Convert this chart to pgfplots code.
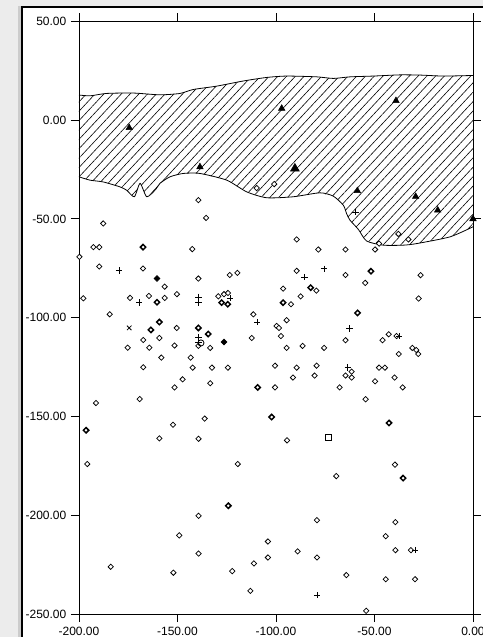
\documentclass[border=0pt]{standalone}
\usepackage{fontspec}
\setmainfont{Liberation Sans}
\usepackage{pgfplots}
\pgfplotsset{compat=1.18}
\usetikzlibrary{patterns.meta}

% square-ish diamonds, open and filled
\pgfdeclareplotmark{odia}{%
  \pgfpathmoveto{\pgfqpoint{0pt}{\pgfplotmarksize}}%
  \pgfpathlineto{\pgfqpoint{\pgfplotmarksize}{0pt}}%
  \pgfpathlineto{\pgfqpoint{0pt}{-\pgfplotmarksize}}%
  \pgfpathlineto{\pgfqpoint{-\pgfplotmarksize}{0pt}}%
  \pgfpathclose
  \pgfusepathqfillstroke}

\begin{document}
\begin{tikzpicture}
\path[use as bounding box, clip] (-59.25pt,-17.25pt) rectangle (303pt,460.5pt);
\fill[gray!15] (-59.25pt,-17.25pt) rectangle (303pt,460.5pt);
\fill[gray!40] (-45.5pt,-17.25pt) rectangle (-43.2pt,456pt);
\draw[line width=1.5pt, fill=white] (-42.4pt,-40pt) rectangle (340pt,455pt);

\begin{axis}[
    scale only axis,
    width=295.5pt, height=444.5pt,
    xmin=-200, xmax=0, ymin=-250, ymax=50,
    xtick={-200,-150,...,0},
    ytick={-250,-200,...,50},
    tick align=outside,
    major tick length=6pt,
    axis line style={line width=0.6pt},
    tick style={line width=0.6pt, black},
    tick label style={font=\fontsize{9}{10}\selectfont},
    /pgf/number format/.cd, fixed, fixed zerofill, precision=2, assume math mode=true,
]

% hatched zone
\addplot[draw=none, pattern={Lines[angle=47, distance=4.8pt, line width=0.45pt]}] coordinates {
    (-200,12.7) (-194.4,12.3) (-186,13.5) (-172.4,13.7) (-158.9,12.8) (-148.7,13.5)
    (-142,15.5) (-130.1,17.2) (-116.6,19.8) (-104.7,21.6) (-94.6,22.3) (-79.3,21.9)
    (-70.9,21.1) (-62.4,21.9) (-50.6,22.3) (-37.1,22.9) (-26.9,22.8) (-15,22.3) (0,22.6)
    (0,-54) (-11.7,-59.1) (-28.6,-62.5) (-35.4,-63.3) (-45.5,-63.3) (-54,-61.2)
    (-58.2,-55.3) (-62.4,-50.7) (-64.1,-47.5) (-65.8,-43.1) (-70.9,-38.5) (-77.7,-36.8)
    (-91.2,-38.8) (-104.7,-39.3) (-114.9,-36.3) (-125,-30.4) (-138.6,-27) (-147.1,-27)
    (-153.8,-28.7) (-158.9,-32) (-161,-35) (-165.6,-38.8) (-169,-32) (-171.9,-38.8)
    (-175.8,-35.5) (-179.2,-33.8) (-187.7,-31.3) (-194.4,-30.4) (-200,-28.7)
} -- cycle;

% upper and lower boundaries
\addplot[black, line width=0.6pt, smooth, tension=0.4] coordinates {
    (-200,12.7) (-194.4,12.3) (-186,13.5) (-172.4,13.7) (-158.9,12.8) (-148.7,13.5)
    (-142,15.5) (-130.1,17.2) (-116.6,19.8) (-104.7,21.6) (-94.6,22.3) (-79.3,21.9)
    (-70.9,21.1) (-62.4,21.9) (-50.6,22.3) (-37.1,22.9) (-26.9,22.8) (-15,22.3) (0,22.6)
};
\addplot[black, line width=0.6pt, smooth, tension=0.4] coordinates {
    (-200,-28.7) (-194.4,-30.4) (-187.7,-31.3) (-179.2,-33.8) (-175.8,-35.5) (-171.9,-38.8)
    (-169,-32) (-165.6,-38.8) (-161,-35) (-158.9,-32) (-153.8,-28.7)
    (-147.1,-27) (-138.6,-27) (-125,-30.4) (-114.9,-36.3) (-104.7,-39.3) (-91.2,-38.8)
    (-77.7,-36.8) (-70.9,-38.5) (-65.8,-43.1) (-64.1,-47.5) (-62.4,-50.7) (-58.2,-55.3)
    (-54,-61.2) (-45.5,-63.3) (-35.4,-63.3) (-28.6,-62.5) (-11.7,-59.1) (0,-54)
};

% filled triangles
\addplot[only marks, mark=triangle*, mark size=2.8pt, black] coordinates {
    (-174.5,-3.9) (-97.1,5.9) (-39.1,9.8) (-138.6,-23.7) (-58.7,-35.8)
    (-29.1,-38.7) (-17.9,-45.6) (0,-50)
};
\addplot[only marks, mark=triangle*, mark size=3.8pt, black] coordinates {(-90.4,-24.5)};

% open diamonds
\addplot[only marks, mark=odia, mark size=2pt, mark options={line width=0.55pt, fill=white, draw=black}] coordinates {
    (-109.8,-34.4) (-100.9,-32.4) (-37.9,-57.6) (-32.8,-60.4) (-47.7,-62.5)
    (-139.4,-40.5) (-135.5,-49.5) (-187.7,-52.3) (-192.7,-64.3) (-189.7,-64.3)
    (-199.8,-69.2) (-142.5,-65.3) (-189.7,-74.1) (-167.5,-75.1) (-139.4,-80.2)
    (-123.5,-78.4) (-119.6,-77.3) (-156.5,-84.3) (-197.8,-90.2) (-174.1,-90.0)
    (-164.5,-89.0) (-156.5,-90.0) (-150.3,-88.1) (-129.3,-89.2) (-126.4,-88.1)
    (-124.4,-87.5) (-96.4,-85.3) (-92.4,-93.2) (-89.5,-60.4) (-89.5,-76.3)
    (-78.5,-65.5) (-79.5,-86.3) (-87.5,-89.2) (-64.7,-65.5) (-64.7,-78.4)
    (-49.7,-65.5) (-54.7,-82.4) (-26.6,-78.5) (-27.6,-90.3)
    (-184.4,-98.3) (-150.4,-105.2) (-175.3,-115.2) (-167.4,-111.3) (-164.3,-115.2)
    (-159.2,-110.3) (-158.2,-120.2) (-151.5,-114.1) (-139.4,-114.3) (-133.4,-115.3)
    (-143.3,-120.2) (-142.3,-125.3) (-132.5,-125.3) (-124.4,-125.3) (-167.4,-125.1)
    (-147.4,-131.2) (-151.5,-135.3) (-133.4,-133.2) (-169.2,-141.2) (-191.4,-143.2)
    (-152.3,-154.2) (-136.2,-151.1) (-159.2,-161.1) (-139.3,-161.3) (-111.5,-98.3)
    (-112.3,-110.3) (-99.7,-104.2) (-98.5,-105.2) (-94.6,-101.3) (-97.5,-109.3)
    (-94.6,-115.3) (-86.5,-114.3) (-75.6,-115.3) (-64.7,-111.4) (-45.9,-111.4)
    (-42.8,-108.4) (-38.8,-109.3) (-37.7,-118.4) (-30.8,-115.3) (-28.8,-116.4)
    (-27.8,-118.4) (-100.5,-124.3) (-89.5,-125.3) (-91.4,-130.3) (-79.4,-124.3)
    (-80.4,-129.3) (-61.6,-127.3) (-64.7,-129.3) (-61.6,-130.3) (-47.7,-125.3)
    (-44.7,-125.3) (-49.7,-132.2) (-39.8,-130.3) (-35.7,-135.3) (-67.7,-135.3)
    (-100.5,-135.3) (-54.5,-141.3) (-94.4,-162.1)
    (-195.8,-174.1) (-119.4,-174.1) (-39.6,-174.4) (-69.4,-180.2) (-139.3,-200.3)
    (-79.2,-202.5) (-39.4,-203.5) (-149.1,-210.2) (-44.3,-210.6) (-104.1,-213.3)
    (-89.0,-218.3) (-39.4,-217.7) (-31.5,-217.7) (-139.3,-219.4) (-104.1,-221.4)
    (-79.2,-221.4) (-183.9,-226.1) (-111.2,-224.4) (-122.2,-228.3) (-152.1,-229.1)
    (-64.3,-230.3) (-44.3,-232.4) (-29.4,-232.4) (-113.0,-238.3) (-54.2,-248.4)
};

% heavy diamonds
\addplot[only marks, mark=odia, mark size=2pt, mark options={line width=1.1pt, fill=white, draw=black}] coordinates {
    (-167.5,-64.3) (-160.4,-92.2) (-127.6,-92.4) (-124.5,-93.2) (-96.4,-92.4)
    (-82.4,-84.8) (-51.8,-76.5) (-159.2,-102.2) (-163.5,-106.2) (-139.4,-105.2)
    (-134.4,-108.3) (-58.6,-97.6) (-109.3,-135.3) (-196.4,-157.0) (-102.2,-150.3)
    (-42.6,-153.3) (-35.5,-181.2) (-124.2,-195.2)
};

% solid diamonds
\addplot[only marks, mark=odia, mark size=2.2pt, mark options={line width=0.5pt, fill=black, draw=black}] coordinates {
    (-160.4,-80.2) (-126.4,-112.3)
};

% crosses
\addplot[only marks, mark=+, mark size=2.4pt, mark options={line width=0.6pt}, black] coordinates {
    (-59.7,-46.6) (-179.7,-76.1) (-169.4,-92.4) (-139.4,-89.5) (-139.4,-92.5)
    (-123.4,-90.0) (-85.6,-79.4) (-75.6,-75.3) (-139.4,-109.8) (-139.4,-112.3)
    (-109.5,-102.2) (-62.6,-105.5) (-37.5,-109.3) (-63.6,-125.3) (-29.4,-217.7)
    (-79.2,-240.5)
};
\addplot[only marks, mark=x, mark size=2.4pt, mark options={line width=0.6pt}, black] coordinates {(-174.5,-105.2)};
\addplot[only marks, mark=square, mark size=2.3pt, mark options={line width=0.6pt}, black] coordinates {(-73.5,-160.4)};
\addplot[only marks, mark=o, mark size=2.3pt, mark options={line width=0.6pt}, black] coordinates {(-138.1,-112.8)};

\end{axis}
\end{tikzpicture}
\end{document}
